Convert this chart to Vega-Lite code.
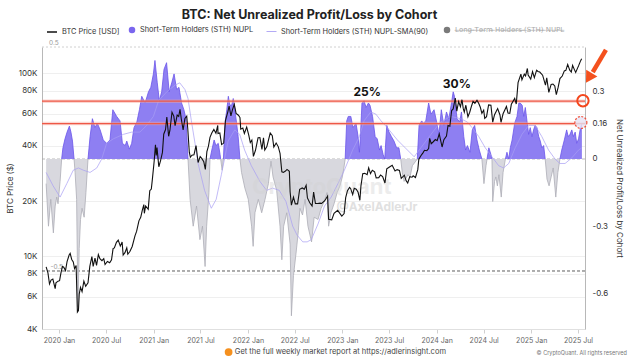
{
"$schema":"https://vega.github.io/schema/vega-lite/v6.json",
"width":543,"height":282,
"autosize":{"type":"none"},
"padding":{"left":42,"top":47,"right":44,"bottom":30},
"background":"white",
"config":{"font":"Inter","view":{"stroke":null}},
"title":{"text":"BTC: Net Unrealized Profit/Loss by Cohort","fontSize":12.5,"fontWeight":"bold","color":"#222222","anchor":"middle","frame":"group","offset":5,"dx":-4},
"datasets":{
"price":[
{"d":"2019-11-12","p":8750},{"d":"2019-11-19","p":8100},{"d":"2019-11-25","p":7050},{"d":"2019-12-01","p":7400},{"d":"2019-12-08","p":7500},{"d":"2019-12-17","p":6650},{"d":"2019-12-20","p":7150},{"d":"2019-12-28","p":7300},
{"d":"2020-01-03","p":7350},{"d":"2020-01-08","p":8050},{"d":"2020-01-14","p":8800},{"d":"2020-01-19","p":8700},{"d":"2020-01-26","p":8350},{"d":"2020-02-01","p":9350},{"d":"2020-02-09","p":10150},{"d":"2020-02-13","p":10350},{"d":"2020-02-19","p":9600},{"d":"2020-02-25","p":9300},{"d":"2020-03-01","p":8550},{"d":"2020-03-07","p":8900},{"d":"2020-03-12","p":4950},{"d":"2020-03-16","p":5050},{"d":"2020-03-19","p":6200},{"d":"2020-03-24","p":6750},{"d":"2020-03-30","p":6400},{"d":"2020-04-06","p":7300},{"d":"2020-04-13","p":6850},{"d":"2020-04-22","p":7150},{"d":"2020-04-29","p":8800},{"d":"2020-05-07","p":9950},{"d":"2020-05-12","p":8800},{"d":"2020-05-19","p":9750},{"d":"2020-05-25","p":8900},{"d":"2020-06-01","p":10200},{"d":"2020-06-07","p":9700},{"d":"2020-06-15","p":9450},{"d":"2020-06-22","p":9700},{"d":"2020-06-27","p":9000},{"d":"2020-07-06","p":9350},{"d":"2020-07-15","p":9200},{"d":"2020-07-22","p":9550},{"d":"2020-07-28","p":11000},{"d":"2020-08-02","p":11100},{"d":"2020-08-10","p":11900},{"d":"2020-08-17","p":12250},{"d":"2020-08-25","p":11350},{"d":"2020-09-01","p":11950},{"d":"2020-09-05","p":10150},{"d":"2020-09-12","p":10450},{"d":"2020-09-19","p":11100},{"d":"2020-09-23","p":10250},{"d":"2020-10-01","p":10600},{"d":"2020-10-10","p":11300},{"d":"2020-10-21","p":12950},{"d":"2020-10-27","p":13650},{"d":"2020-11-05","p":15600},{"d":"2020-11-12","p":16300},{"d":"2020-11-18","p":17800},{"d":"2020-11-24","p":19150},{"d":"2020-11-26","p":17150},{"d":"2020-12-01","p":18800},{"d":"2020-12-11","p":18050},{"d":"2020-12-17","p":22800},{"d":"2020-12-23","p":23250},{"d":"2020-12-27","p":26300},
{"d":"2021-01-03","p":33000},{"d":"2021-01-08","p":40600},{"d":"2021-01-11","p":35500},{"d":"2021-01-14","p":39200},{"d":"2021-01-21","p":30800},{"d":"2021-01-28","p":33400},{"d":"2021-02-04","p":36900},{"d":"2021-02-09","p":46400},{"d":"2021-02-16","p":49200},{"d":"2021-02-21","p":57500},{"d":"2021-02-28","p":45200},{"d":"2021-03-05","p":48800},{"d":"2021-03-13","p":61200},{"d":"2021-03-20","p":58300},{"d":"2021-03-25","p":51700},{"d":"2021-04-02","p":59000},{"d":"2021-04-08","p":58000},{"d":"2021-04-13","p":63500},{"d":"2021-04-18","p":56200},{"d":"2021-04-25","p":49000},{"d":"2021-05-02","p":56600},{"d":"2021-05-09","p":58200},{"d":"2021-05-13","p":49700},{"d":"2021-05-19","p":37000},{"d":"2021-05-23","p":34700},{"d":"2021-05-29","p":35600},{"d":"2021-06-06","p":35800},{"d":"2021-06-14","p":40200},{"d":"2021-06-22","p":32500},{"d":"2021-06-30","p":35000},{"d":"2021-07-06","p":34200},{"d":"2021-07-14","p":32800},{"d":"2021-07-20","p":29800},{"d":"2021-07-26","p":37300},{"d":"2021-08-01","p":39900},{"d":"2021-08-07","p":44600},{"d":"2021-08-14","p":47100},{"d":"2021-08-22","p":49300},{"d":"2021-08-30","p":47000},{"d":"2021-09-06","p":51800},{"d":"2021-09-07","p":46800},{"d":"2021-09-14","p":47100},{"d":"2021-09-21","p":40700},{"d":"2021-09-29","p":41500},{"d":"2021-10-06","p":55300},{"d":"2021-10-15","p":61500},{"d":"2021-10-20","p":66000},{"d":"2021-10-27","p":58400},{"d":"2021-11-02","p":63200},{"d":"2021-11-09","p":67500},{"d":"2021-11-16","p":60300},{"d":"2021-11-25","p":58900},{"d":"2021-12-01","p":57200},{"d":"2021-12-04","p":49400},{"d":"2021-12-12","p":50100},{"d":"2021-12-18","p":46800},{"d":"2021-12-27","p":50700},
{"d":"2022-01-04","p":45800},{"d":"2022-01-10","p":41800},{"d":"2022-01-16","p":43100},{"d":"2022-01-22","p":35100},{"d":"2022-01-30","p":37900},{"d":"2022-02-09","p":44400},{"d":"2022-02-16","p":44500},{"d":"2022-02-24","p":38300},{"d":"2022-03-02","p":44400},{"d":"2022-03-07","p":38000},{"d":"2022-03-15","p":39700},{"d":"2022-03-28","p":47100},{"d":"2022-04-05","p":45500},{"d":"2022-04-11","p":39500},{"d":"2022-04-20","p":41500},{"d":"2022-04-28","p":39700},{"d":"2022-05-05","p":36500},{"d":"2022-05-12","p":28900},{"d":"2022-05-18","p":28700},{"d":"2022-05-26","p":29200},{"d":"2022-06-01","p":29800},{"d":"2022-06-10","p":29100},{"d":"2022-06-13","p":22500},{"d":"2022-06-18","p":19000},{"d":"2022-06-26","p":21000},{"d":"2022-07-03","p":19300},{"d":"2022-07-12","p":19300},{"d":"2022-07-20","p":23200},{"d":"2022-07-30","p":23600},{"d":"2022-08-07","p":23200},{"d":"2022-08-14","p":24400},{"d":"2022-08-19","p":20800},{"d":"2022-08-28","p":19600},{"d":"2022-09-06","p":18800},{"d":"2022-09-12","p":22400},{"d":"2022-09-19","p":19400},{"d":"2022-09-28","p":19400},{"d":"2022-10-07","p":19500},{"d":"2022-10-13","p":19400},{"d":"2022-10-25","p":20100},{"d":"2022-11-05","p":21300},{"d":"2022-11-09","p":15900},{"d":"2022-11-21","p":15800},{"d":"2022-11-30","p":17150},{"d":"2022-12-14","p":17800},{"d":"2022-12-30","p":16550},
{"d":"2023-01-08","p":17100},{"d":"2023-01-14","p":20900},{"d":"2023-01-21","p":22800},{"d":"2023-01-29","p":23750},{"d":"2023-02-02","p":23450},{"d":"2023-02-10","p":21700},{"d":"2023-02-16","p":23500},{"d":"2023-02-24","p":23200},{"d":"2023-03-03","p":22350},{"d":"2023-03-10","p":20200},{"d":"2023-03-14","p":24200},{"d":"2023-03-21","p":28200},{"d":"2023-03-29","p":28350},{"d":"2023-04-07","p":27900},{"d":"2023-04-13","p":30400},{"d":"2023-04-20","p":28250},{"d":"2023-04-27","p":29500},{"d":"2023-05-06","p":28900},{"d":"2023-05-12","p":26800},{"d":"2023-05-22","p":26850},{"d":"2023-05-29","p":27750},{"d":"2023-06-06","p":27200},{"d":"2023-06-15","p":25100},{"d":"2023-06-22","p":30000},{"d":"2023-07-01","p":30600},{"d":"2023-07-13","p":31400},{"d":"2023-07-24","p":29200},{"d":"2023-08-01","p":29700},{"d":"2023-08-10","p":29400},{"d":"2023-08-17","p":26600},{"d":"2023-08-29","p":27700},{"d":"2023-09-05","p":25800},{"d":"2023-09-11","p":25100},{"d":"2023-09-19","p":27200},{"d":"2023-09-28","p":27000},{"d":"2023-10-02","p":27500},{"d":"2023-10-11","p":26900},{"d":"2023-10-20","p":29700},{"d":"2023-10-24","p":33900},{"d":"2023-11-01","p":35400},{"d":"2023-11-09","p":36700},{"d":"2023-11-15","p":37900},{"d":"2023-11-24","p":37700},{"d":"2023-12-01","p":38700},{"d":"2023-12-05","p":44000},{"d":"2023-12-11","p":41200},{"d":"2023-12-19","p":42200},{"d":"2023-12-27","p":43400},
{"d":"2024-01-03","p":42800},{"d":"2024-01-11","p":46600},{"d":"2024-01-22","p":39500},{"d":"2024-01-29","p":43300},{"d":"2024-02-08","p":45300},{"d":"2024-02-14","p":51800},{"d":"2024-02-21","p":51300},{"d":"2024-02-28","p":62500},{"d":"2024-03-05","p":63800},{"d":"2024-03-13","p":73100},{"d":"2024-03-19","p":62000},{"d":"2024-03-26","p":70000},{"d":"2024-04-02","p":65600},{"d":"2024-04-08","p":71600},{"d":"2024-04-13","p":64000},{"d":"2024-04-17","p":61300},{"d":"2024-04-23","p":66800},{"d":"2024-05-01","p":57800},{"d":"2024-05-08","p":61200},{"d":"2024-05-15","p":66200},{"d":"2024-05-21","p":70100},{"d":"2024-05-28","p":68400},{"d":"2024-06-05","p":71100},{"d":"2024-06-12","p":68200},{"d":"2024-06-18","p":65100},{"d":"2024-06-24","p":60300},{"d":"2024-07-01","p":62700},{"d":"2024-07-05","p":56700},{"d":"2024-07-12","p":57900},{"d":"2024-07-20","p":67100},{"d":"2024-07-29","p":66800},{"d":"2024-08-05","p":54000},{"d":"2024-08-12","p":59300},{"d":"2024-08-24","p":64100},{"d":"2024-09-02","p":59100},{"d":"2024-09-06","p":53900},{"d":"2024-09-14","p":60000},{"d":"2024-09-27","p":65800},{"d":"2024-10-03","p":60600},{"d":"2024-10-10","p":60300},{"d":"2024-10-16","p":67600},{"d":"2024-10-29","p":72700},{"d":"2024-11-04","p":67800},{"d":"2024-11-11","p":88700},{"d":"2024-11-22","p":98900},{"d":"2024-11-26","p":91900},{"d":"2024-12-05","p":98800},{"d":"2024-12-10","p":96600},{"d":"2024-12-17","p":106100},{"d":"2024-12-20","p":97800},{"d":"2024-12-30","p":92800},
{"d":"2025-01-06","p":102100},{"d":"2025-01-13","p":94500},{"d":"2025-01-20","p":102000},{"d":"2025-01-22","p":103700},{"d":"2025-01-27","p":102100},{"d":"2025-02-03","p":101400},{"d":"2025-02-14","p":97500},{"d":"2025-02-25","p":86100},{"d":"2025-03-02","p":94200},{"d":"2025-03-10","p":78600},{"d":"2025-03-19","p":86800},{"d":"2025-03-26","p":87200},{"d":"2025-04-02","p":85100},{"d":"2025-04-08","p":76300},{"d":"2025-04-15","p":83600},{"d":"2025-04-22","p":93400},{"d":"2025-05-01","p":96500},{"d":"2025-05-09","p":102900},{"d":"2025-05-15","p":103600},{"d":"2025-05-22","p":111700},{"d":"2025-05-30","p":103900},{"d":"2025-06-05","p":101500},{"d":"2025-06-10","p":110200},{"d":"2025-06-17","p":104600},{"d":"2025-06-22","p":100900},{"d":"2025-06-30","p":107200},{"d":"2025-07-03","p":109600},{"d":"2025-07-10","p":116000},{"d":"2025-07-15","p":119800}
],
"nupl":[
{"d":"2019-11-12","v":-0.11},{"d":"2019-11-21","v":-0.30},{"d":"2019-11-30","v":-0.18},{"d":"2019-12-10","v":-0.33},{"d":"2019-12-17","v":-0.21},{"d":"2019-12-23","v":-0.17},{"d":"2019-12-28","v":-0.20},{"d":"2020-01-05","v":-0.10},{"d":"2020-01-11","v":0.0},{"d":"2020-01-16","v":0.05},{"d":"2020-01-24","v":0.09},{"d":"2020-02-01","v":0.12},{"d":"2020-02-10","v":0.147},{"d":"2020-02-16","v":0.12},{"d":"2020-02-22","v":0.08},{"d":"2020-02-28","v":0.0},{"d":"2020-03-03","v":-0.06},{"d":"2020-03-09","v":-0.18},{"d":"2020-03-14","v":-0.66},{"d":"2020-03-19","v":-0.40},{"d":"2020-03-24","v":-0.27},{"d":"2020-03-30","v":-0.22},{"d":"2020-04-07","v":-0.26},{"d":"2020-04-14","v":-0.15},{"d":"2020-04-22","v":0.0},{"d":"2020-04-30","v":0.10},{"d":"2020-05-09","v":0.18},{"d":"2020-05-19","v":0.14},{"d":"2020-05-28","v":0.16},{"d":"2020-06-08","v":0.13},{"d":"2020-06-20","v":0.085},{"d":"2020-07-03","v":0.07},{"d":"2020-07-16","v":0.085},{"d":"2020-07-27","v":0.22},{"d":"2020-08-11","v":0.19},{"d":"2020-08-24","v":0.17},{"d":"2020-09-02","v":0.07},{"d":"2020-09-13","v":0.06},{"d":"2020-09-19","v":0.08},{"d":"2020-09-29","v":0.044},{"d":"2020-10-08","v":0.07},{"d":"2020-10-17","v":0.14},{"d":"2020-10-28","v":0.165},{"d":"2020-11-07","v":0.22},{"d":"2020-11-16","v":0.28},{"d":"2020-11-29","v":0.25},{"d":"2020-12-12","v":0.30},{"d":"2020-12-21","v":0.32},{"d":"2020-12-31","v":0.38},
{"d":"2021-01-06","v":0.44},{"d":"2021-01-15","v":0.34},{"d":"2021-01-23","v":0.26},{"d":"2021-02-01","v":0.30},{"d":"2021-02-10","v":0.40},{"d":"2021-02-20","v":0.43},{"d":"2021-03-02","v":0.30},{"d":"2021-03-12","v":0.34},{"d":"2021-03-21","v":0.38},{"d":"2021-03-31","v":0.31},{"d":"2021-04-09","v":0.32},{"d":"2021-04-19","v":0.25},{"d":"2021-04-28","v":0.22},{"d":"2021-05-06","v":0.18},{"d":"2021-05-14","v":0.0},{"d":"2021-05-22","v":-0.18},{"d":"2021-06-03","v":-0.30},{"d":"2021-06-16","v":-0.21},{"d":"2021-06-29","v":-0.36},{"d":"2021-07-09","v":-0.30},{"d":"2021-07-19","v":-0.48},{"d":"2021-07-25","v":-0.30},{"d":"2021-08-03","v":-0.15},{"d":"2021-08-07","v":0.0},{"d":"2021-08-14","v":0.04},{"d":"2021-08-23","v":0.085},{"d":"2021-08-30","v":0.06},{"d":"2021-09-08","v":0.07},{"d":"2021-09-15","v":0.02},{"d":"2021-09-23","v":-0.05},{"d":"2021-09-28","v":0.0},{"d":"2021-10-04","v":0.16},{"d":"2021-10-11","v":0.22},{"d":"2021-10-17","v":0.28},{"d":"2021-10-23","v":0.24},{"d":"2021-10-30","v":0.24},{"d":"2021-11-05","v":0.27},{"d":"2021-11-11","v":0.22},{"d":"2021-11-18","v":0.16},{"d":"2021-11-24","v":0.10},{"d":"2021-12-01","v":0.0},{"d":"2021-12-07","v":-0.06},{"d":"2021-12-20","v":-0.13},
{"d":"2022-01-02","v":-0.18},{"d":"2022-01-15","v":-0.30},{"d":"2022-01-21","v":-0.39},{"d":"2022-01-28","v":-0.24},{"d":"2022-02-10","v":-0.18},{"d":"2022-02-23","v":-0.24},{"d":"2022-03-08","v":-0.18},{"d":"2022-03-21","v":-0.11},{"d":"2022-03-31","v":-0.01},{"d":"2022-04-08","v":-0.08},{"d":"2022-04-22","v":-0.14},{"d":"2022-05-05","v":-0.30},{"d":"2022-05-12","v":-0.45},{"d":"2022-05-19","v":-0.30},{"d":"2022-05-31","v":-0.24},{"d":"2022-06-13","v":-0.38},{"d":"2022-06-18","v":-0.70},{"d":"2022-06-26","v":-0.52},{"d":"2022-07-06","v":-0.42},{"d":"2022-07-15","v":-0.32},{"d":"2022-07-21","v":-0.22},{"d":"2022-07-31","v":-0.25},{"d":"2022-08-10","v":-0.18},{"d":"2022-08-21","v":-0.30},{"d":"2022-09-04","v":-0.37},{"d":"2022-09-14","v":-0.26},{"d":"2022-09-29","v":-0.27},{"d":"2022-10-11","v":-0.22},{"d":"2022-10-23","v":-0.19},{"d":"2022-11-03","v":-0.15},{"d":"2022-11-09","v":-0.30},{"d":"2022-11-18","v":-0.24},{"d":"2022-11-30","v":-0.20},{"d":"2022-12-12","v":-0.15},{"d":"2022-12-23","v":-0.12},
{"d":"2023-01-01","v":-0.08},{"d":"2023-01-07","v":-0.04},{"d":"2023-01-12","v":0.0},{"d":"2023-01-18","v":0.17},{"d":"2023-01-24","v":0.19},{"d":"2023-02-03","v":0.19},{"d":"2023-02-11","v":0.14},{"d":"2023-02-23","v":0.16},{"d":"2023-03-03","v":0.10},{"d":"2023-03-08","v":0.03},{"d":"2023-03-12","v":0.10},{"d":"2023-03-18","v":0.25},{"d":"2023-03-26","v":0.26},{"d":"2023-04-03","v":0.23},{"d":"2023-04-12","v":0.25},{"d":"2023-04-18","v":0.24},{"d":"2023-04-28","v":0.19},{"d":"2023-05-08","v":0.10},{"d":"2023-05-16","v":0.09},{"d":"2023-05-25","v":0.04},{"d":"2023-05-31","v":0.06},{"d":"2023-06-08","v":0.02},{"d":"2023-06-14","v":0.0},{"d":"2023-06-22","v":0.15},{"d":"2023-07-01","v":0.12},{"d":"2023-07-10","v":0.10},{"d":"2023-07-20","v":0.08},{"d":"2023-07-30","v":0.05},{"d":"2023-08-08","v":0.05},{"d":"2023-08-15","v":0.0},{"d":"2023-08-21","v":-0.06},{"d":"2023-08-28","v":-0.10},{"d":"2023-09-03","v":-0.09},{"d":"2023-09-12","v":-0.07},{"d":"2023-09-20","v":-0.08},{"d":"2023-09-29","v":-0.03},{"d":"2023-10-12","v":-0.01},{"d":"2023-10-18","v":0.0},{"d":"2023-10-25","v":0.15},{"d":"2023-11-04","v":0.17},{"d":"2023-11-11","v":0.16},{"d":"2023-11-20","v":0.17},{"d":"2023-12-01","v":0.25},{"d":"2023-12-10","v":0.20},{"d":"2023-12-22","v":0.22},
{"d":"2024-01-01","v":0.165},{"d":"2024-01-10","v":0.11},{"d":"2024-01-19","v":0.22},{"d":"2024-01-29","v":0.15},{"d":"2024-02-08","v":0.21},{"d":"2024-02-17","v":0.18},{"d":"2024-02-26","v":0.24},{"d":"2024-03-05","v":0.30},{"d":"2024-03-10","v":0.28},{"d":"2024-03-20","v":0.18},{"d":"2024-03-30","v":0.165},{"d":"2024-04-06","v":0.21},{"d":"2024-04-15","v":0.10},{"d":"2024-04-22","v":0.04},{"d":"2024-04-29","v":0.06},{"d":"2024-05-09","v":0.03},{"d":"2024-05-18","v":0.13},{"d":"2024-05-27","v":0.15},{"d":"2024-06-05","v":0.085},{"d":"2024-06-14","v":0.04},{"d":"2024-06-24","v":0.0},{"d":"2024-07-02","v":-0.11},{"d":"2024-07-10","v":-0.03},{"d":"2024-07-14","v":0.0},{"d":"2024-07-21","v":0.05},{"d":"2024-07-29","v":0.02},{"d":"2024-08-02","v":0.0},{"d":"2024-08-05","v":-0.19},{"d":"2024-08-12","v":-0.10},{"d":"2024-08-17","v":-0.08},{"d":"2024-08-23","v":-0.12},{"d":"2024-08-29","v":-0.07},{"d":"2024-09-07","v":-0.17},{"d":"2024-09-14","v":-0.06},{"d":"2024-09-23","v":0.0},{"d":"2024-09-29","v":0.03},{"d":"2024-10-06","v":0.0},{"d":"2024-10-12","v":0.05},{"d":"2024-10-19","v":0.085},{"d":"2024-10-29","v":0.16},{"d":"2024-11-07","v":0.19},{"d":"2024-11-14","v":0.25},{"d":"2024-11-19","v":0.25},{"d":"2024-11-27","v":0.24},{"d":"2024-12-03","v":0.19},{"d":"2024-12-09","v":0.23},{"d":"2024-12-16","v":0.165},{"d":"2024-12-22","v":0.11},{"d":"2024-12-28","v":0.14},
{"d":"2025-01-04","v":0.10},{"d":"2025-01-10","v":0.13},{"d":"2025-01-16","v":0.15},{"d":"2025-01-23","v":0.14},{"d":"2025-01-30","v":0.10},{"d":"2025-02-05","v":0.08},{"d":"2025-02-11","v":0.05},{"d":"2025-02-18","v":0.06},{"d":"2025-02-24","v":0.0},{"d":"2025-03-03","v":-0.09},{"d":"2025-03-11","v":-0.12},{"d":"2025-03-19","v":-0.08},{"d":"2025-03-27","v":-0.04},{"d":"2025-04-06","v":-0.17},{"d":"2025-04-14","v":-0.06},{"d":"2025-04-22","v":0.0},{"d":"2025-04-29","v":0.04},{"d":"2025-05-09","v":0.085},{"d":"2025-05-18","v":0.13},{"d":"2025-05-24","v":0.10},{"d":"2025-05-31","v":0.11},{"d":"2025-06-07","v":0.13},{"d":"2025-06-13","v":0.10},{"d":"2025-06-20","v":0.12},{"d":"2025-06-26","v":0.07},{"d":"2025-07-03","v":0.09},{"d":"2025-07-09","v":0.13},{"d":"2025-07-16","v":0.16}
],
"sma":[
{"d":"2019-11-12","v":-0.06},{"d":"2019-12-09","v":-0.12},{"d":"2020-01-05","v":-0.17},{"d":"2020-01-31","v":-0.11},{"d":"2020-02-25","v":-0.05},{"d":"2020-03-16","v":-0.04},{"d":"2020-04-04","v":-0.05},{"d":"2020-04-30","v":-0.06},{"d":"2020-05-26","v":-0.04},{"d":"2020-06-14","v":0.0},{"d":"2020-07-03","v":0.07},{"d":"2020-07-29","v":0.09},{"d":"2020-09-06","v":0.11},{"d":"2020-10-08","v":0.12},{"d":"2020-11-09","v":0.12},{"d":"2020-12-05","v":0.15},{"d":"2020-12-31","v":0.19},{"d":"2021-01-20","v":0.26},{"d":"2021-02-21","v":0.30},{"d":"2021-03-25","v":0.33},{"d":"2021-04-12","v":0.34},{"d":"2021-05-02","v":0.31},{"d":"2021-05-14","v":0.27},{"d":"2021-05-27","v":0.17},{"d":"2021-06-10","v":0.07},{"d":"2021-06-22","v":-0.02},{"d":"2021-07-17","v":-0.14},{"d":"2021-08-12","v":-0.22},{"d":"2021-08-31","v":-0.18},{"d":"2021-09-20","v":-0.07},{"d":"2021-10-16","v":0.08},{"d":"2021-11-11","v":0.13},{"d":"2021-11-30","v":0.11},{"d":"2021-12-19","v":0.04},{"d":"2022-01-14","v":-0.03},{"d":"2022-02-16","v":-0.10},{"d":"2022-03-14","v":-0.14},{"d":"2022-04-06","v":-0.13},{"d":"2022-05-02","v":-0.14},{"d":"2022-05-28","v":-0.19},{"d":"2022-06-23","v":-0.30},{"d":"2022-07-10","v":-0.34},{"d":"2022-08-01","v":-0.37},{"d":"2022-08-18","v":-0.37},{"d":"2022-09-03","v":-0.36},{"d":"2022-09-29","v":-0.29},{"d":"2022-10-24","v":-0.21},{"d":"2022-11-19","v":-0.17},{"d":"2022-12-15","v":-0.11},{"d":"2023-01-09","v":-0.05},{"d":"2023-02-10","v":0.04},{"d":"2023-03-08","v":0.10},{"d":"2023-03-26","v":0.17},{"d":"2023-04-21","v":0.21},{"d":"2023-05-11","v":0.20},{"d":"2023-05-31","v":0.17},{"d":"2023-06-24","v":0.14},{"d":"2023-08-02","v":0.085},{"d":"2023-09-10","v":0.04},{"d":"2023-10-06","v":0.01},{"d":"2023-11-01","v":0.05},{"d":"2023-12-10","v":0.11},{"d":"2024-01-16","v":0.165},{"d":"2024-02-24","v":0.19},{"d":"2024-04-03","v":0.18},{"d":"2024-04-29","v":0.165},{"d":"2024-05-17","v":0.14},{"d":"2024-06-12","v":0.10},{"d":"2024-07-07","v":0.05},{"d":"2024-08-02","v":0.01},{"d":"2024-08-28","v":-0.03},{"d":"2024-09-16","v":-0.04},{"d":"2024-10-06","v":-0.02},{"d":"2024-10-31","v":0.05},{"d":"2024-11-26","v":0.11},{"d":"2024-12-22","v":0.15},{"d":"2025-01-16","v":0.15},{"d":"2025-02-11","v":0.10},{"d":"2025-03-09","v":0.04},{"d":"2025-04-03","v":0.0},{"d":"2025-04-22","v":-0.02},{"d":"2025-05-12","v":-0.02},{"d":"2025-06-07","v":0.005},{"d":"2025-07-03","v":0.04},{"d":"2025-07-16","v":0.05}
]
},
"encoding":{"x":{"field":"d","type":"temporal","scale":{"domain":[1572134400000,1753660800000],"nice":false},
 "axis":{"values":[1577836800000,1593561600000,1609459200000,1625097600000,1640995200000,1656633600000,1672531200000,1688169600000,1704067200000,1719792000000,1735689600000,1751328000000],"labelExpr":"utcFormat(datum.value, '%Y %b')","labelFontSize":7,"labelColor":"#666666","tickColor":"#d0d0d0","tickSize":4,"domainColor":"#e0e0e0","grid":false,"labelPadding":3,"title":null,"labelFlush":false,"labelOverlap":false}}},
"layer":[
{"encoding":{"y":{"field":"v","type":"quantitative","scale":{"domain":[-0.759,0.5],"nice":false,"zero":false},
   "axis":{"orient":"right","values":[0.3,0.16,0,-0.3,-0.6],"labelExpr":"'' + datum.value","grid":false,"ticks":false,"domain":true,"domainColor":"#b8b8b8","labelPadding":7,"labelFontSize":8,"labelColor":"#333333","title":"Net Unrealized Profit/Loss by Cohort","titleFontSize":8,"titleFontWeight":"normal","titleColor":"#333333","titleAngle":90,"titleX":33,"titleY":141,"titleBaseline":"middle","titleAlign":"center"}}},
 "layer":[
{"data":{"values":[{"d":"2019-10-27","v":0.5},{"d":"2025-07-28","v":0.5}]},"mark":{"type":"line","color":"#c4c4c4","strokeDash":[2,2],"strokeWidth":0.8}},
{"data":{"values":[{"d":"2019-10-27","v":0},{"d":"2025-07-28","v":0}]},"mark":{"type":"line","color":"#a8a8a8","strokeDash":[3,2],"strokeWidth":0.8}},
{"data":{"values":[{"d":"2019-10-27","v":-0.5},{"d":"2025-07-28","v":-0.5}]},"mark":{"type":"line","color":"#333333","strokeDash":[3,2],"strokeWidth":0.8}},
{"data":{"name":"nupl"},
 "mark":{"type":"area","line":false,"fill":{"gradient":"linear","x1":0,"y1":0,"x2":0,"y2":1,"stops":[{"offset":0,"color":"#8e7ff2"},{"offset":0.386,"color":"#8e7ff2"},{"offset":0.386,"color":"#d8d8de"},{"offset":1,"color":"#d8d8de"}]}}},
{"data":{"name":"nupl"},
 "mark":{"type":"line","strokeWidth":0.8,"stroke":{"gradient":"linear","x1":0,"y1":0,"x2":0,"y2":1,"stops":[{"offset":0,"color":"#6a55ea"},{"offset":0.386,"color":"#6a55ea"},{"offset":0.386,"color":"#adadb6"},{"offset":1,"color":"#adadb6"}]}}},
{"data":{"name":"sma"},"mark":{"type":"line","color":"#a89df4","strokeWidth":0.7}},
{"data":{"values":[{"k":"a","d":"2019-10-27","v":0.258},{"k":"a","d":"2025-07-28","v":0.258},{"k":"b","d":"2019-10-27","v":0.158},{"k":"b","d":"2025-07-28","v":0.158}]},"mark":{"type":"line","color":"#f6a79c","strokeWidth":3.5,"opacity":0.45},"encoding":{"detail":{"field":"k"}}},
{"data":{"values":[{"k":"a","d":"2019-10-27","v":0.258},{"k":"a","d":"2025-07-28","v":0.258},{"k":"b","d":"2019-10-27","v":0.158},{"k":"b","d":"2025-07-28","v":0.158}]},"mark":{"type":"line","color":"#ee5846","strokeWidth":1.2},"encoding":{"detail":{"field":"k"}}},
{"data":{"values":[{"d":"2019-12-12","v":0.5,"t":"0.5"},{"d":"2019-12-23","v":-0.5,"t":"-0.5"}]},"mark":{"type":"text","fontSize":6.5,"color":"#999999","baseline":"bottom","dy":-1},"encoding":{"text":{"field":"t"}}},
{"data":{"values":[{"d":"2022-10-14","v":-0.125,"t":"CryptoQuant"}]},"mark":{"type":"text","fontSize":22,"fontWeight":"bold","color":"#d2d2d2","opacity":0.4,"baseline":"middle"},"encoding":{"text":{"field":"t"}}},
{"data":{"values":[{"d":"2023-05-15","v":-0.214,"t":"@AxelAdlerJr"}]},"mark":{"type":"text","fontSize":12,"fontWeight":"bold","color":"#c8c8c8","opacity":0.55,"baseline":"middle"},"encoding":{"text":{"field":"t"}}},
{"data":{"values":[{"d":"2023-04-07","v":0.299,"t":"25%"},{"d":"2024-03-19","v":0.335,"t":"30%"}]},"mark":{"type":"text","fontSize":12,"fontWeight":"bold","color":"#111111","baseline":"middle"},"encoding":{"text":{"field":"t"}}},
{"data":{"values":[{"d":"2025-07-12","v":0.163}]},"mark":{"type":"point","shape":"circle","size":144,"filled":false,"fill":"#e6e2f4","fillOpacity":0.8,"stroke":"#f0503a","strokeWidth":1.2,"strokeDash":[2,1.5],"opacity":1}},
{"data":{"values":[{"d":"2025-07-20","v":0.26}]},"mark":{"type":"point","shape":"circle","size":130,"filled":false,"stroke":"#f4461c","strokeWidth":2,"opacity":1}},
{"data":{"values":[{"d":"2025-10-17","v":0.487},{"d":"2025-08-27","v":0.388}]},"mark":{"type":"line","color":"#f4511e","strokeWidth":4.5}},
{"data":{"values":[{"d":"2025-08-12","v":0.362}]},"mark":{"type":"point","shape":"triangle-down","size":170,"filled":true,"color":"#f4511e","opacity":1,"angle":31}},
{"data":{"values":[{"d":"2021-10-18","v":-0.862}]},"mark":{"type":"point","shape":"circle","size":60,"filled":true,"color":"#f5901e","opacity":1}},
{"data":{"values":[{"d":"2021-11-11","v":-0.862,"t":"Get the full weekly market report at https://adlerinsight.com"}]},"mark":{"type":"text","fontSize":7.5,"color":"#444444","align":"left","baseline":"middle"},"encoding":{"text":{"field":"t"}}},
{"data":{"values":[{"d":"2026-01-06","v":-0.866,"t":"© CryptoQuant. All rights reserved"}]},"mark":{"type":"text","fontSize":5.5,"color":"#777777","align":"right","baseline":"middle"},"encoding":{"text":{"field":"t"}}},
{"data":{"values":[{"s1":"BTC Price [USD]"}]},"mark":{"type":"point","filled":false,"opacity":0},
 "encoding":{"stroke":{"field":"s1","type":"nominal","scale":{"domain":["BTC Price [USD]"],"range":["#111111"]},
  "legend":{"orient":"none","legendX":4,"legendY":-21,"title":null,"padding":0,"symbolType":"stroke","symbolSize":100,"symbolStrokeWidth":1.5,"symbolOpacity":1,"labelFontSize":7.4,"labelColor":"#333333","labelOffset":4}}}},
{"data":{"values":[{"s2":"Short-Term Holders (STH) NUPL"}]},"mark":{"type":"point","filled":true,"opacity":0},
 "encoding":{"fill":{"field":"s2","type":"nominal","scale":{"domain":["Short-Term Holders (STH) NUPL"],"range":["#7a66ee"]},
  "legend":{"orient":"none","legendX":86,"legendY":-21,"title":null,"padding":0,"symbolType":"circle","symbolSize":42,"symbolOpacity":1,"labelFontSize":7.4,"labelColor":"#333333","labelOffset":4}}}},
{"data":{"values":[{"s3":"Short-Term Holders (STH) NUPL-SMA(90)"}]},"mark":{"type":"point","filled":false,"opacity":0},
 "encoding":{"color":{"field":"s3","type":"nominal","scale":{"domain":["Short-Term Holders (STH) NUPL-SMA(90)"],"range":["#aaa0f4"]},
  "legend":{"orient":"none","legendX":224,"legendY":-21,"title":null,"padding":0,"symbolType":"stroke","symbolSize":100,"symbolStrokeWidth":0.9,"symbolOpacity":1,"labelFontSize":7.4,"labelColor":"#333333","labelOffset":4}}}},
{"data":{"values":[{"s4":"L\u0336o\u0336n\u0336g\u0336-\u0336T\u0336e\u0336r\u0336m\u0336 \u0336H\u0336o\u0336l\u0336d\u0336e\u0336r\u0336s\u0336 \u0336(\u0336S\u0336T\u0336H\u0336)\u0336 \u0336N\u0336U\u0336P\u0336L\u0336"}]},"mark":{"type":"point","filled":true,"opacity":0,"color":"#7a7a7a"},
 "encoding":{"shape":{"field":"s4","type":"nominal","scale":{"domain":["L\u0336o\u0336n\u0336g\u0336-\u0336T\u0336e\u0336r\u0336m\u0336 \u0336H\u0336o\u0336l\u0336d\u0336e\u0336r\u0336s\u0336 \u0336(\u0336S\u0336T\u0336H\u0336)\u0336 \u0336N\u0336U\u0336P\u0336L\u0336"],"range":["circle"]},
  "legend":{"orient":"none","legendX":401,"legendY":-21,"title":null,"padding":0,"symbolSize":42,"symbolFillColor":"#7a7a7a","symbolStrokeColor":"#7a7a7a","symbolOpacity":1,"labelFontSize":7,"labelFont":"DejaVu Sans","labelColor":"#aaaaaa","labelOffset":4}}}}
]},
{"data":{"name":"price"},"mark":{"type":"line","color":"#111111","strokeWidth":1.1},
 "encoding":{
  "y":{"field":"p","type":"quantitative","scale":{"type":"log","domain":[4000,139000],"nice":false},
   "axis":{"orient":"left","values":[4000,6000,8000,10000,20000,40000,60000,80000,100000],"labelExpr":"(datum.value/1000) + 'K'","grid":true,"gridColor":"#efefef","ticks":false,"domain":true,"domainColor":"#b8b8b8","labelPadding":5,"labelFontSize":8,"labelColor":"#333333","title":"BTC Price ($)","titleFontSize":8,"titleFontWeight":"normal","titleColor":"#333333","titleX":-32,"titleY":141,"titleBaseline":"middle","titleAlign":"center","titleAngle":-90}}}}
],
"resolve":{"scale":{"y":"independent"}}
}
